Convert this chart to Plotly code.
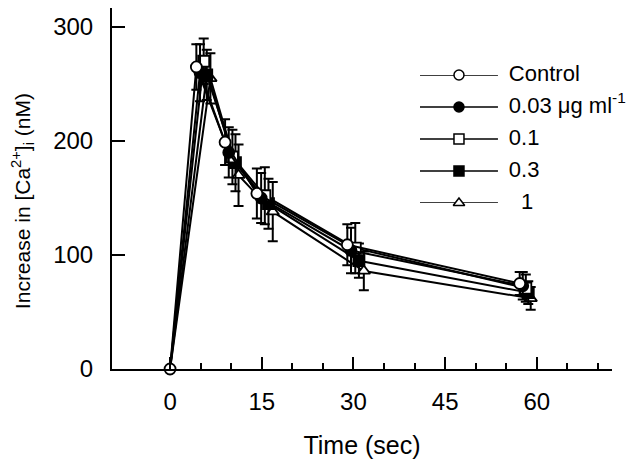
import plotly.graph_objects as go

series_names = ["Control", "0.03 μg ml<sup>-1</sup>", "0.1", "0.3", "\u00a0\u00a01"]

time_control = [0, 4.3, 9.0, 14.2, 29.0, 57.2]
time_003 = [0, 4.9, 9.6, 14.9, 29.6, 57.7]
time_01 = [0, 5.5, 10.2, 15.5, 30.3, 58.2]
time_03 = [0, 6.0, 10.7, 16.1, 30.9, 58.6]
time_1 = [0, 6.6, 11.2, 16.8, 31.7, 59.0]

ca_control = [0, 265, 199, 154, 109, 75]
ca_003 = [0, 260, 190, 150, 104, 73]
ca_01 = [0, 270, 186, 152, 106, 71]
ca_03 = [0, 258, 181, 145, 95, 67]
ca_1 = [0, 255, 170, 138, 86, 62]

err_control = [None, 20, 20, 22, 18, 10]
err_003 = [None, 25, 22, 22, 20, 12]
err_01 = [None, 20, 24, 25, 22, 12]
err_03 = [None, 22, 25, 22, 15, 10]
err_1 = [None, 22, 27, 26, 17, 10]

x_ticks = [0, 15, 30, 45, 60]
x_minor_ticks = [5, 10, 20, 25, 35, 40, 50, 55, 65, 70]
y_ticks = [0, 100, 200, 300]

x_title = "Time (sec)"
y_title = "Increase in [Ca<sup>2+</sup>]<sub>i</sub> (nM)"

symbols = ["circle", "circle", "square", "square", "triangle-up"]
fills = ["white", "black", "white", "black", "white"]

data = [
    (time_control, ca_control, err_control),
    (time_003, ca_003, err_003),
    (time_01, ca_01, err_01),
    (time_03, ca_03, err_03),
    (time_1, ca_1, err_1),
]

fig = go.Figure()
for i in [4, 3, 2, 1, 0]:
    xs, ys, es = data[i]
    # only the control marker is visible at the common origin
    sizes = [11 if (i == 0 or k > 0) else 0 for k in range(len(xs))]
    fig.add_trace(go.Scatter(
        x=xs, y=ys, name=series_names[i],
        mode="lines+markers",
        line=dict(color="black", width=2),
        marker=dict(symbol=symbols[i], size=sizes, color=fills[i], opacity=1,
                    line=dict(color="black", width=1.8)),
        error_y=dict(type="data", array=es, visible=True, color="black", thickness=2, width=5),
        cliponaxis=False,
        showlegend=False,
    ))

# Legend drawn on an auxiliary overlay axis
legend_rows = [0, 1, 2, 3, 4]
for i in legend_rows:
    fig.add_trace(go.Scatter(
        x=[0, 1], y=[i, i], mode="lines", xaxis="x2", yaxis="y2",
        line=dict(color="black", width=1.5), showlegend=False, hoverinfo="skip",
        cliponaxis=False))
    fig.add_trace(go.Scatter(
        x=[0.5], y=[i], mode="markers", xaxis="x2", yaxis="y2",
        marker=dict(symbol=symbols[i], size=10, color=fills[i], opacity=1,
                    line=dict(color="black", width=1.5)),
        showlegend=False, hoverinfo="skip", cliponaxis=False))
fig.add_trace(go.Scatter(
    x=[1.14] * len(legend_rows), y=legend_rows, mode="text", xaxis="x2", yaxis="y2",
    text=series_names, textposition="middle right",
    textfont=dict(family="Arial, Liberation Sans, sans-serif", size=22, color="black"),
    showlegend=False, hoverinfo="skip", cliponaxis=False))

fig.add_annotation(
    text=y_title, textangle=-90, xref="paper", yref="paper",
    x=-0.18, y=0.465, xanchor="center", yanchor="middle", showarrow=False,
    font=dict(size=21, color="black"))

font_family = "Arial, Liberation Sans, sans-serif"
fig.update_layout(
    width=640, height=463,
    margin=dict(l=104, r=36, t=0, b=102),
    paper_bgcolor="white", plot_bgcolor="white",
    font=dict(family=font_family, size=24, color="black"),
    showlegend=False,
    xaxis=dict(
        range=[-9.5, 72.3], tickmode="array", tickvals=x_ticks,
        ticks="inside", ticklen=12, tickwidth=1.5, tickcolor="black",
        minor=dict(tickmode="array", tickvals=x_minor_ticks,
                   ticks="inside", ticklen=6, tickwidth=1.5, tickcolor="black"),
        showline=True, linecolor="black", linewidth=2, showgrid=False, zeroline=False,
        ticklabelstandoff=10,
        title=dict(text=x_title, standoff=23, font=dict(size=25)),
    ),
    yaxis=dict(
        range=[0, 316.7], tickmode="array", tickvals=y_ticks,
        ticks="inside", ticklen=13, tickwidth=1.5, tickcolor="black",
        showline=True, linecolor="black", linewidth=2, showgrid=False, zeroline=False,
        ticklabelstandoff=12,
    ),
    xaxis2=dict(domain=[0.616, 0.959], range=[0, 2.2], visible=False, fixedrange=True),
    yaxis2=dict(domain=[0.4598, 0.8144], range=[4, 0], visible=False, fixedrange=True,
                anchor="x2"),
)
fig.write_html("out.html")
